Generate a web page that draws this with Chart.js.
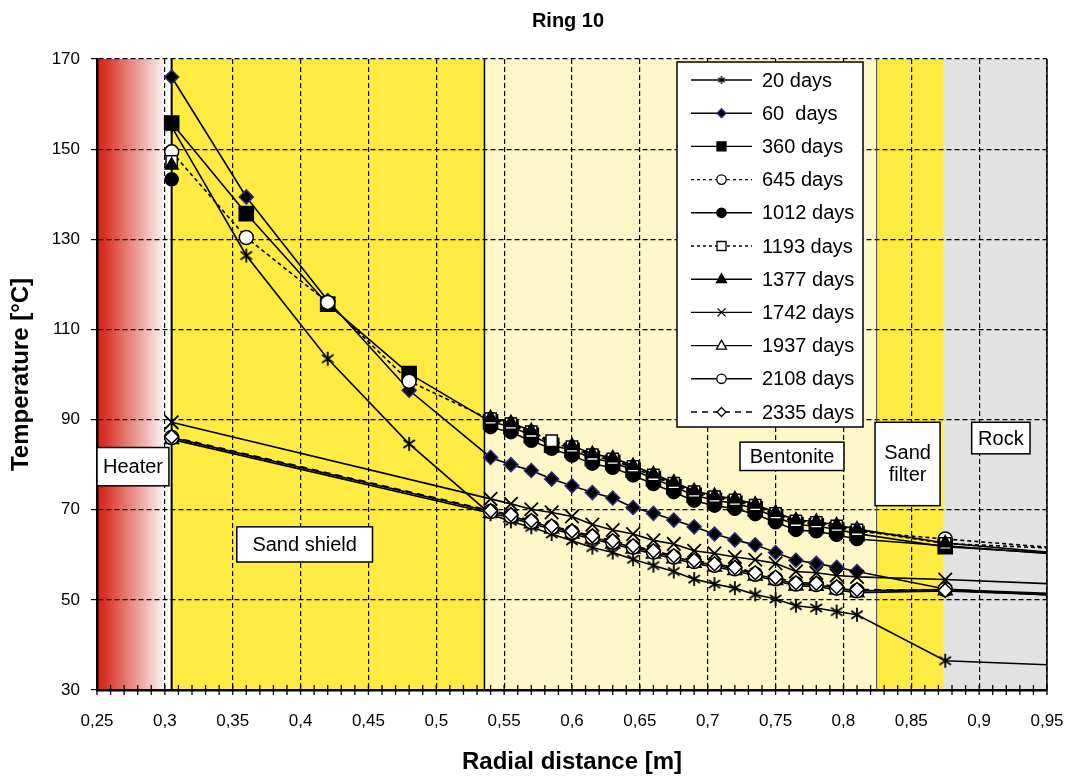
<!DOCTYPE html>
<html>
<head>
<meta charset="utf-8">
<title>Ring 10</title>
<script src="https://cdn.jsdelivr.net/npm/chart.js@4.4.1/dist/chart.umd.min.js"></script>
<style>
  html, body { margin: 0; padding: 0; background: #fff; }
  canvas { display: block; }
</style>
</head>
<body>
<canvas id="chart" width="1078" height="778"></canvas>
<script>
// Sensor radii [m]; the last value lies in the rock, beyond the plotted range
const radius = [0.305, 0.36, 0.42, 0.48,
  0.54, 0.555, 0.57, 0.585, 0.6, 0.615, 0.63, 0.645, 0.66, 0.675, 0.69, 0.705, 0.72, 0.735, 0.75, 0.765, 0.78, 0.795, 0.81,
  0.875, 1.05];

// Temperatures [°C] per survey date (null = no reading)
const days20   = [155.0, 126.4, 103.5, 84.6, 69.0, 67.4, 66.1, 64.6, 63.1, 61.6, 60.5, 59.0, 57.6, 56.3, 54.6, 53.5, 52.6, 51.2, 50.2, 48.7, 48.2, 47.4, 46.7, 36.5, 34.4];
const days60   = [166.0, 139.4, 116.4, 96.5, 81.6, 80.0, 78.7, 76.8, 75.3, 73.8, 72.6, 70.5, 69.2, 67.7, 66.2, 64.6, 63.3, 62.2, 60.5, 58.8, 58.1, 57.2, 56.3, 52.4, 49.4];
const days360  = [155.8, 135.7, 115.6, 100.2, 89.5, 88.4, 86.5, 84.3, 83.2, 81.4, 80.5, 78.8, 76.9, 75.1, 73.2, 72.1, 71.4, 70.2, 68.4, 66.7, 66.4, 65.6, 64.7, 61.8, 58.5];
const days645  = [149.4, 130.4, 116.0, 98.5, 90.0, 88.9, 87.0, 84.8, 83.7, 81.9, 81.0, 79.3, 77.4, 75.6, 73.7, 72.6, 71.9, 70.7, 68.9, 67.2, 66.9, 66.1, 65.2, 63.5, 59.3];
const days1012 = [143.3, null, null, null, 88.3, 87.2, 85.3, 83.5, 82.0, 80.2, 79.3, 77.6, 75.7, 73.9, 72.0, 70.9, 70.2, 69.0, 67.2, 65.5, 65.2, 64.4, 63.5, 62.0, 58.0];
const days1193 = [147.3, null, null, null, 90.2, 89.1, 87.3, 85.3, 84.0, 82.2, 81.3, 79.6, 77.7, 75.9, 74.0, 72.9, 72.2, 71.0, 69.2, 67.5, 67.2, 66.4, 65.5, 62.5, 60.2];
const days1377 = [146.4, null, null, null, 90.4, 89.3, 87.5, null, 84.2, 82.4, 81.5, 79.8, 77.9, 76.1, 74.2, 73.1, 72.4, 71.2, 69.4, 67.7, 67.4, 66.6, 65.7, 62.6, 57.9];
const days1742 = [89.4, null, null, null, 72.4, 71.3, 70.1, 69.4, 68.5, 66.7, 65.5, 64.6, 63.2, 62.4, 60.9, 60.3, 59.5, 58.9, 58.1, 56.3, 56.0, 55.4, 55.1, 54.5, 52.4];
const days1937 = [85.6, null, null, null, 69.2, 68.2, 66.9, 65.7, 64.6, 63.5, 62.4, 61.3, 60.2, 59.1, 58.1, 57.3, 56.5, 55.3, 54.3, 53.1, 53.0, 52.2, 51.6, 52.0, 50.0];
const days2108 = [86.0, null, null, null, 69.6, 68.6, 67.3, 66.1, 65.0, 63.9, 62.8, 61.7, 60.6, 59.5, 58.5, 57.7, 56.9, 55.7, 54.7, 53.5, 53.4, 52.6, 52.0, 52.3, 50.3];
const days2335 = [86.2, null, null, null, 69.8, 68.9, 67.6, 66.4, 65.3, 64.2, 63.1, 62.0, 60.9, 59.8, 58.8, 58.0, 57.2, 56.0, 55.0, 53.8, 53.7, 52.9, 52.3, 52.1, 50.0];

// Axis ticks
const xTicks = [0.25, 0.3, 0.35, 0.4, 0.45, 0.5, 0.55, 0.6, 0.65, 0.7, 0.75, 0.8, 0.85, 0.9, 0.95];
const yTicks = [30, 50, 70, 90, 110, 130, 150, 170];

// Material zones along the radius [m]
const zones = { heaterEnd: 0.2987, shieldStart: 0.305, bentoniteStart: 0.5355, filterStart: 0.8245, rockStart: 0.874 };

// Zone name boxes (data units)
const zoneLabels = [
  { text: ['Heater'],         x0: 0.25,   x1: 0.303,  y0: 83.8, y1: 75.3 },
  { text: ['Sand shield'],    x0: 0.353,  x1: 0.453,  y0: 66.2, y1: 58.4 },
  { text: ['Bentonite'],      x0: 0.7238, x1: 0.8004, y0: 85.0, y1: 78.7 },
  { text: ['Sand', 'filter'], x0: 0.8233, x1: 0.8712, y0: 89.4, y1: 70.9 },
  { text: ['Rock'],           x0: 0.8945, x1: 0.9375, y0: 89.4, y1: 82.4 }
];

const FONT = "'Liberation Sans', Arial, Helvetica, sans-serif";
Chart.defaults.font.family = FONT;
Chart.defaults.color = '#000';

// Six-armed asterisk marker
function makeAsterisk(size, lw) {
  const c = document.createElement('canvas');
  c.width = c.height = size;
  const g = c.getContext('2d');
  g.strokeStyle = '#000';
  g.lineWidth = lw;
  const m = size / 2, r = size / 2 - 1;
  g.beginPath();
  for (const a of [90, 35, -35]) {
    const t = a * Math.PI / 180;
    g.moveTo(m - r * Math.cos(t), m - r * Math.sin(t));
    g.lineTo(m + r * Math.cos(t), m + r * Math.sin(t));
  }
  g.stroke();
  return c;
}
const asteriskBig = makeAsterisk(16, 1.8);
const asteriskSmall = makeAsterisk(10, 1.4);

const series = [
  { label: '20 days',   values: days20,   mark: 'asterisk', fill: '#000', stroke: '#000', r: 7,   dash: [],     gaps: false },
  { label: '60  days',  values: days60,   mark: 'rectRot',  fill: '#000', stroke: '#2b2b7a', r: 7, dash: [],     gaps: false },
  { label: '360 days',  values: days360,  mark: 'rect',     fill: '#000', stroke: '#000', r: 10,  dash: [],     gaps: false },
  { label: '645 days',  values: days645,  mark: 'circle',   fill: '#fff', stroke: '#000', r: 7,   dash: [4, 3], gaps: false },
  { label: '1012 days', values: days1012, mark: 'circle',   fill: '#000', stroke: '#000', r: 6.5, dash: [],     gaps: false },
  { label: '1193 days', values: days1193, mark: 'rect',     fill: '#fff', stroke: '#000', r: 8,   dash: [4, 3], gaps: false },
  { label: '1377 days', values: days1377, mark: 'triangle', fill: '#000', stroke: '#000', r: 7.5, dash: [],     gaps: false },
  { label: '1742 days', values: days1742, mark: 'crossRot', fill: '#000', stroke: '#000', r: 9.5, dash: [],     gaps: true },
  { label: '1937 days', values: days1937, mark: 'triangle', fill: '#fff', stroke: '#000', r: 8,   dash: [],     gaps: true },
  { label: '2108 days', values: days2108, mark: 'circle',   fill: '#fff', stroke: '#000', r: 7,   dash: [],     gaps: true },
  { label: '2335 days', values: days2335, mark: 'rectRot',  fill: '#fff', stroke: '#000', r: 7,   dash: [7, 5], gaps: true }
];

const datasets = series.map((s, i) => ({
  label: s.label,
  data: radius.map((x, k) => ({ x: x, y: s.values[k] })),
  borderColor: '#000',
  borderWidth: 1.6,
  borderDash: s.dash,
  pointStyle: s.mark === 'asterisk' ? asteriskBig : s.mark,
  pointRadius: s.r,
  pointBackgroundColor: s.fill,
  pointBorderColor: s.stroke,
  pointBorderWidth: s.mark === 'crossRot' ? 1.8 : 1.5,
  spanGaps: s.gaps,
  fill: false,
  tension: 0,
  order: series.length - i,
  clip: { left: 15, top: 15, right: 0, bottom: 15 }
}));

// Small legend symbols
function drawSymbol(ctx, s, x, y) {
  ctx.save();
  ctx.fillStyle = s.fill;
  ctx.strokeStyle = s.stroke;
  ctx.lineWidth = 1.3;
  ctx.setLineDash([]);
  ctx.beginPath();
  switch (s.mark) {
    case 'asterisk':
      ctx.drawImage(asteriskSmall, x - 5, y - 5);
      ctx.restore();
      return;
    case 'rectRot':
      ctx.moveTo(x, y - 4.5); ctx.lineTo(x + 4.5, y); ctx.lineTo(x, y + 4.5); ctx.lineTo(x - 4.5, y); ctx.closePath();
      break;
    case 'rect':
      ctx.rect(x - 4.5, y - 4.5, 9, 9);
      break;
    case 'circle':
      ctx.arc(x, y, 4.7, 0, Math.PI * 2);
      break;
    case 'triangle':
      ctx.moveTo(x, y - 5.5); ctx.lineTo(x + 5, y + 3.5); ctx.lineTo(x - 5, y + 3.5); ctx.closePath();
      break;
    case 'crossRot':
      ctx.moveTo(x - 4, y - 4); ctx.lineTo(x + 4, y + 4); ctx.moveTo(x + 4, y - 4); ctx.lineTo(x - 4, y + 4);
      ctx.stroke();
      ctx.restore();
      return;
  }
  ctx.fill();
  ctx.stroke();
  ctx.restore();
}

const backdrop = {
  id: 'backdrop',
  beforeDraw(chart) {
    const { ctx, chartArea: a, scales: { x } } = chart;
    const px = v => x.getPixelForValue(v);
    ctx.save();
    ctx.fillStyle = '#fff';
    ctx.fillRect(0, 0, chart.width, chart.height);
    const h = a.bottom - a.top;
    const g = ctx.createLinearGradient(a.left, 0, px(zones.heaterEnd), 0);
    g.addColorStop(0, '#d5261a');
    g.addColorStop(0.1, '#d82f22');
    g.addColorStop(1, '#fbf0f0');
    ctx.fillStyle = g;
    ctx.fillRect(a.left, a.top, px(zones.heaterEnd) - a.left, h);
    ctx.fillStyle = '#ffeb42';
    ctx.fillRect(px(zones.shieldStart), a.top, px(zones.bentoniteStart) - px(zones.shieldStart), h);
    ctx.fillStyle = '#fff7c8';
    ctx.fillRect(px(zones.bentoniteStart), a.top, px(zones.filterStart) - px(zones.bentoniteStart), h);
    ctx.fillStyle = '#ffeb42';
    ctx.fillRect(px(zones.filterStart), a.top, px(zones.rockStart) - px(zones.filterStart), h);
    ctx.fillStyle = '#e2e2e2';
    ctx.fillRect(px(zones.rockStart), a.top, a.right - px(zones.rockStart), h);
    ctx.restore();
  },
  beforeDatasetsDraw(chart) {
    const { ctx, chartArea: a, scales: { x } } = chart;
    const px = v => x.getPixelForValue(v);
    ctx.save();
    ctx.setLineDash([]);
    const vline = (v, w, col) => {
      ctx.lineWidth = w; ctx.strokeStyle = col;
      ctx.beginPath(); ctx.moveTo(v, a.top); ctx.lineTo(v, a.bottom); ctx.stroke();
    };
    vline(px(zones.shieldStart), 2, '#000');
    vline(px(zones.bentoniteStart), 1.5, '#000');
    vline(px(zones.filterStart), 1, '#444');
    vline(a.right, 1.5, '#000');
    // minor ticks every 0.01 m across the radial axis
    ctx.lineWidth = 1.3;
    ctx.strokeStyle = '#000';
    ctx.beginPath();
    for (let i = 25; i <= 95; i++) {
      const p = px(i / 100);
      ctx.moveTo(p, a.bottom - 5);
      ctx.lineTo(p, a.bottom + 5);
    }
    ctx.stroke();
    ctx.restore();
  },
  afterDatasetsDraw(chart) {
    const { ctx, scales: { x, y } } = chart;
    ctx.save();
    ctx.setLineDash([]);
    // zone names
    ctx.font = `20px ${FONT}`;
    ctx.textAlign = 'center';
    ctx.textBaseline = 'middle';
    for (const z of zoneLabels) {
      const l = x.getPixelForValue(z.x0), r = x.getPixelForValue(z.x1);
      const t = y.getPixelForValue(z.y0), b = y.getPixelForValue(z.y1);
      ctx.fillStyle = '#fff';
      ctx.fillRect(l, t, r - l, b - t);
      ctx.strokeStyle = '#000';
      ctx.lineWidth = 1.5;
      ctx.strokeRect(l, t, r - l, b - t);
      ctx.fillStyle = '#000';
      const cy = (t + b) / 2, lh = 22;
      z.text.forEach((line, i) => {
        ctx.fillText(line, (l + r) / 2, cy + (i - (z.text.length - 1) / 2) * lh + 1);
      });
    }
    // legend
    const box = { left: 677, top: 62, width: 186, height: 365 };
    ctx.fillStyle = '#fff';
    ctx.fillRect(box.left, box.top, box.width, box.height);
    ctx.strokeStyle = '#000';
    ctx.lineWidth = 1.5;
    ctx.strokeRect(box.left, box.top, box.width, box.height);
    ctx.textAlign = 'left';
    ctx.font = `20px ${FONT}`;
    series.forEach((s, i) => {
      const cy = 80 + i * 33.2;
      ctx.strokeStyle = '#000';
      ctx.lineWidth = 1.4;
      ctx.setLineDash(s.dash.length ? (s.dash[0] > 5 ? [6, 5] : [3, 3]) : []);
      ctx.beginPath();
      ctx.moveTo(691, cy); ctx.lineTo(752, cy);
      ctx.stroke();
      ctx.setLineDash([]);
      drawSymbol(ctx, s, 721.5, cy);
      ctx.fillStyle = '#000';
      ctx.fillText(s.label, 762, cy + 1);
    });
    ctx.restore();
  },
  afterDraw(chart) {
    const { ctx, chartArea: a } = chart;
    ctx.save();
    ctx.font = `bold 20px ${FONT}`;
    ctx.fillStyle = '#000';
    ctx.textAlign = 'center';
    ctx.textBaseline = 'middle';
    ctx.fillText('Ring 10', (a.left + a.right) / 2 - 4, 21);
    ctx.restore();
  }
};

const fmtComma = v => String(Math.round(v * 100) / 100).replace('.', ',');

new Chart(document.getElementById('chart'), {
  type: 'line',
  data: { datasets },
  options: {
    responsive: false,
    animation: false,
    events: [],
    layout: { padding: { top: 59, right: 31, left: 0, bottom: 0 } },
    plugins: { legend: { display: false }, tooltip: { enabled: false }, title: { display: false } },
    scales: {
      x: {
        type: 'linear',
        min: xTicks[0],
        max: xTicks[xTicks.length - 1],
        ticks: {
          stepSize: xTicks[1] - xTicks[0],
          autoSkip: false,
          maxRotation: 0,
          padding: 21,
          font: { size: 17 },
          color: '#000',
          callback: v => fmtComma(v)
        },
        grid: { color: '#000', lineWidth: 1.2, drawTicks: false },
        border: { display: true, color: '#000', width: 2.5, dash: [5, 3] },
        title: { display: true, text: 'Radial distance [m]', font: { size: 24, weight: 'bold' }, color: '#000', padding: { top: 0, bottom: 1 } },
        afterFit: s => { s.height = 88; s.paddingLeft = 0; s.paddingRight = 0; }
      },
      y: {
        type: 'linear',
        min: yTicks[0],
        max: yTicks[yTicks.length - 1],
        ticks: { stepSize: yTicks[1] - yTicks[0], padding: 11, font: { size: 17 }, color: '#000' },
        grid: { color: '#000', lineWidth: 1.2, drawTicks: true, tickLength: 6, tickColor: '#000' },
        border: { display: true, color: '#000', width: 2.5, dash: [5, 3] },
        title: { display: true, text: 'Temperature [°C]', font: { size: 24, weight: 'bold' }, color: '#000', padding: { top: 7, bottom: 0 } },
        afterFit: s => { s.width = 97; s.paddingTop = 0; s.paddingBottom = 0; }
      }
    }
  },
  plugins: [backdrop]
});
</script>
</body>
</html>
